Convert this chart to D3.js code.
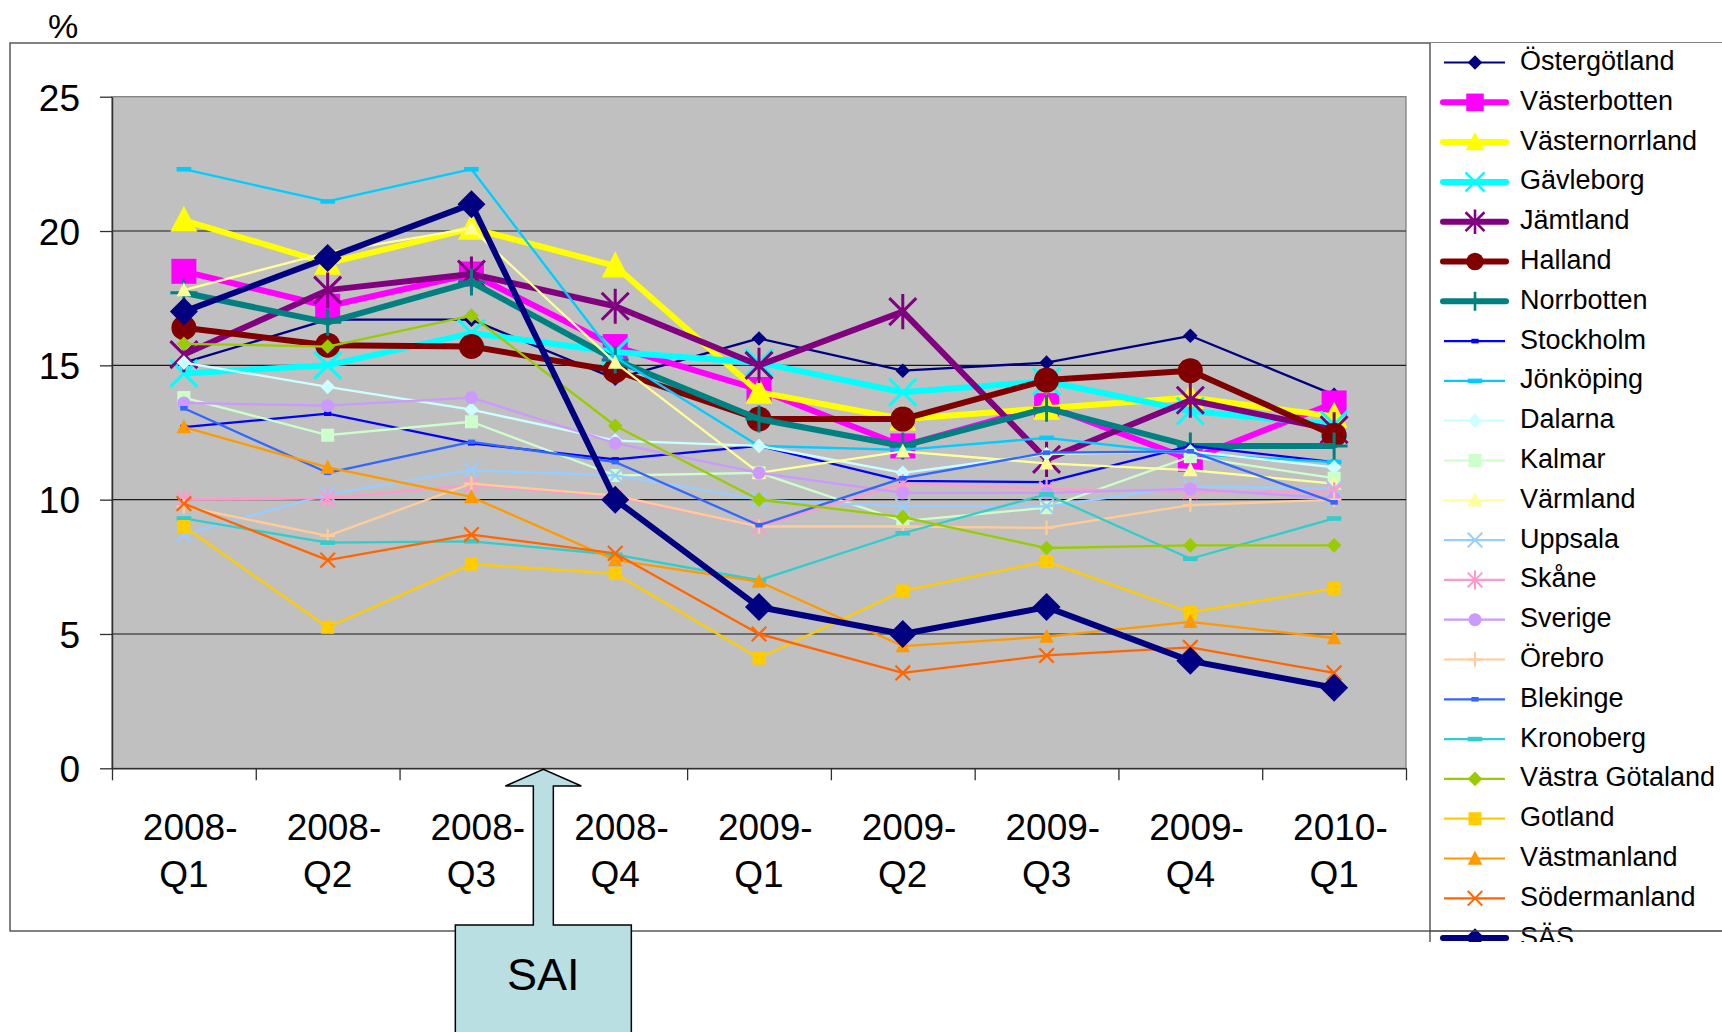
<!DOCTYPE html>
<html>
<head>
<meta charset="utf-8">
<script src="https://cdn.jsdelivr.net/npm/d3@7"></script>
<style>
body { margin: 0; background: #fff; }
svg { display: block; font-family: "Liberation Sans", Arial, sans-serif; }
</style>
</head>
<body>
<svg id="chart" width="1722" height="1032"></svg>
<script>
const quarters = ["2008-Q1", "2008-Q2", "2008-Q3", "2008-Q4", "2009-Q1", "2009-Q2", "2009-Q3", "2009-Q4", "2010-Q1"];
const yTicks = [0, 5, 10, 15, 20, 25];

const regions = ["Östergötland", "Västerbotten", "Västernorrland", "Gävleborg", "Jämtland", "Halland",
    "Norrbotten", "Stockholm", "Jönköping", "Dalarna", "Kalmar", "Värmland", "Uppsala", "Skåne",
    "Sverige", "Örebro", "Blekinge", "Kronoberg", "Västra Götaland", "Gotland", "Västmanland",
    "Södermanland", "SÄS"];

const ostergotland   = [15.1, 16.7, 16.7, 14.5, 16.0, 14.8, 15.1, 16.1, 13.9];
const vasterbotten   = [18.5, 17.2, 18.4, 15.7, 14.1, 12.0, 13.5, 11.5, 13.6];
const vasternorrland = [20.4, 18.8, 20.1, 18.7, 14.0, 13.0, 13.4, 13.8, 13.1];
const gavleborg      = [14.7, 15.0, 16.2, 15.5, 15.1, 14.0, 14.4, 13.3, 12.8];
const jamtland       = [15.4, 17.8, 18.4, 17.2, 15.0, 17.0, 11.5, 13.7, 12.6];
const halland        = [16.4, 15.75, 15.7, 14.8, 13.0, 13.0, 14.45, 14.8, 12.4];
const norrbotten     = [17.7, 16.6, 18.1, 15.2, 13.0, 12.0, 13.4, 12.0, 12.0];
const stockholm      = [12.7, 13.2, 12.1, 11.5, 12.0, 10.7, 10.65, 12.0, 11.4];
const jonkoping      = [22.3, 21.1, 22.3, 15.3, 12.0, 11.85, 12.3, 11.7, 11.4];
const dalarna        = [15.1, 14.2, 13.35, 12.2, 12.0, 11.0, 11.7, 11.8, 11.2];
const kalmar         = [13.8, 12.4, 12.9, 10.9, 11.0, 9.2, 9.7, 11.6, 10.8];
const varmland       = [17.8, 19.2, 20.1, 15.1, 11.0, 11.8, 11.35, 11.1, 10.6];
const uppsala        = [8.7, 10.2, 11.1, 10.9, 10.0, 9.75, 9.75, 10.5, 10.4];
const skane          = [10.0, 10.05, 10.55, 10.1, 9.0, 10.6, 10.4, 10.3, 10.3];
const sverige        = [13.6, 13.5, 13.8, 12.1, 11.0, 10.25, 10.25, 10.4, 10.05];
const orebro         = [9.75, 8.65, 10.6, 10.15, 9.0, 9.0, 8.95, 9.8, 10.0];
const blekinge       = [13.4, 11.0, 12.15, 11.4, 9.05, 10.8, 11.75, 11.8, 9.9];
const kronoberg      = [9.3, 8.4, 8.45, 7.95, 7.0, 8.75, 10.2, 7.8, 9.3];
const vastraGotaland = [15.8, 15.7, 16.85, 12.75, 10.0, 9.35, 8.2, 8.3, 8.3];
const gotland        = [9.0, 5.25, 7.6, 7.25, 4.1, 6.6, 7.7, 5.8, 6.7];
const vastmanland    = [12.7, 11.2, 10.1, 7.75, 6.95, 4.55, 4.9, 5.45, 4.85];
const sodermanland   = [9.85, 7.75, 8.7, 8.0, 5.0, 3.55, 4.2, 4.5, 3.55];
const sas            = [17.0, 19.0, 21.0, 10.0, 6.0, 5.0, 6.0, 4.0, 3.0];

const seriesValues = [ostergotland, vasterbotten, vasternorrland, gavleborg, jamtland, halland,
    norrbotten, stockholm, jonkoping, dalarna, kalmar, varmland, uppsala, skane, sverige, orebro,
    blekinge, kronoberg, vastraGotaland, gotland, vastmanland, sodermanland, sas];

// styling, kept apart from the values
const colors = ["#000080", "#ff00ff", "#ffff00", "#00ffff", "#800080", "#800000", "#008080", "#0000ff",
    "#00ccff", "#ccffff", "#ccffcc", "#ffff99", "#99ccff", "#ff99cc", "#cc99ff", "#ffcc99", "#3366ff",
    "#33cccc", "#99cc00", "#ffcc00", "#ff9900", "#ff6600", "#000080"];
const markers = ["diamond", "square", "triangle", "x", "asterisk", "circle", "plus", "dash", "longdash",
    "diamond", "square", "triangle", "x", "asterisk", "circle", "plus", "dash", "longdash", "diamond",
    "square", "triangle", "x", "diamond"];
const thick = regions.map((d, i) => (i >= 1 && i <= 6) || i === 22);

const svg = d3.select("#chart");
const W = 1722;
const plot = { left: 112, top: 96.7, right: 1406, bottom: 768.3 };

const x = d3.scaleBand().domain(quarters).range([plot.left, plot.right]);
const y = d3.scaleLinear().domain([0, 25]).range([plot.bottom, plot.top]);

// chart frame
svg.append("rect")
    .attr("x", 10).attr("y", 43).attr("width", 1800).attr("height", 888)
    .attr("fill", "#fff").attr("stroke", "#404040").attr("stroke-width", 1.3);

svg.append("text")
    .attr("x", 63).attr("y", 38)
    .attr("text-anchor", "middle")
    .attr("font-size", 34)
    .text("%");

// plot area
svg.append("rect")
    .attr("x", plot.left).attr("y", plot.top)
    .attr("width", plot.right - plot.left).attr("height", plot.bottom - plot.top)
    .attr("fill", "#c0c0c0").attr("stroke", "#808080").attr("stroke-width", 1.3);

svg.append("g")
    .selectAll("line")
    .data(yTicks.filter(d => d > 0 && d < 25))
    .enter().append("line")
    .attr("x1", plot.left).attr("x2", plot.right)
    .attr("y1", d => y(d)).attr("y2", d => y(d))
    .attr("stroke", "#1a1a1a").attr("stroke-width", 1.2);

const yAxis = svg.append("g")
    .attr("transform", `translate(${plot.left},0)`)
    .call(d3.axisLeft(y).tickValues(yTicks).tickSize(12).tickPadding(20).tickSizeOuter(0));
yAxis.select(".domain").attr("stroke", "#303030").attr("stroke-width", 1.5);
yAxis.selectAll(".tick line").attr("stroke", "#303030").attr("stroke-width", 1.3);
yAxis.selectAll(".tick text")
    .attr("font-size", 37).attr("fill", "#000")
    .attr("font-family", "'Liberation Sans', Arial, sans-serif")
    .attr("dy", "0.36em");

// category boundaries carry the tick marks
const xEdges = d3.scaleLinear().domain([0, quarters.length]).range([plot.left, plot.right]);
const xAxis = svg.append("g")
    .attr("transform", `translate(0,${plot.bottom})`)
    .call(d3.axisBottom(xEdges).tickValues(d3.range(quarters.length + 1)).tickFormat("").tickSize(12).tickSizeOuter(0));
xAxis.select(".domain").attr("stroke", "#303030").attr("stroke-width", 1.5);
xAxis.selectAll(".tick line").attr("stroke", "#303030").attr("stroke-width", 1.3);

// first line is centred on the year, the hyphen hangs to the right
const xLabels = svg.append("g")
    .selectAll("text")
    .data(quarters)
    .enter().append("text")
    .attr("text-anchor", "middle")
    .attr("font-size", 37);
xLabels.append("tspan")
    .attr("x", d => x(d) + x.bandwidth() / 2).attr("y", 840)
    .attr("dx", "0.17em")
    .text(d => d.split("-")[0] + "-");
xLabels.append("tspan")
    .attr("x", d => x(d) + x.bandwidth() / 2).attr("y", 887)
    .text(d => d.split("-")[1]);

function markerPath(type, r) {
    switch (type) {
        case "diamond": return `M0,${-r}L${r},0L0,${r}L${-r},0Z`;
        case "square": return `M${-r},${-r}H${r}V${r}H${-r}Z`;
        case "triangle": return `M0,${-r * 1.08}L${r},${r * 0.85}L${-r},${r * 0.85}Z`;
        case "circle": return d3.arc()({ innerRadius: 0, outerRadius: r, startAngle: 0, endAngle: 2 * Math.PI });
        case "x": return `M${-r},${-r}L${r},${r}M${-r},${r}L${r},${-r}`;
        case "asterisk": return `M${-r},${-r}L${r},${r}M${-r},${r}L${r},${-r}M0,${-r * 1.3}V${r * 1.3}`;
        case "plus": return `M${-r},0H${r}M0,${-r}V${r}`;
        case "dash": return `M${-r * 0.5},${-2.3}H${r * 0.5}V${2.3}H${-r * 0.5}Z`;
        case "longdash": return `M${-r},${-2.3}H${r}V${2.3}H${-r}Z`;
    }
}
const stroked = t => t === "x" || t === "asterisk" || t === "plus";

function markerSize(i) {
    if (i === 22) return 14;
    if (thick[i]) return markers[i] === "square" || markers[i] === "circle" ? 12.5 : 13.5;
    if (markers[i] === "square" || markers[i] === "circle") return 6.5;
    return 7.3;
}

const line = d3.line()
    .x((d, j) => x(quarters[j]) + x.bandwidth() / 2)
    .y(d => y(d));

const seriesG = svg.append("g");
seriesValues.forEach((vals, i) => {
    const g = seriesG.append("g");
    g.append("path")
        .datum(vals)
        .attr("fill", "none")
        .attr("stroke", colors[i])
        .attr("stroke-width", thick[i] ? 6 : 2.3)
        .attr("stroke-linejoin", "round")
        .attr("d", line);
    const t = markers[i];
    g.selectAll(".m")
        .data(vals)
        .enter().append("path")
        .attr("transform", (d, j) => `translate(${x(quarters[j]) + x.bandwidth() / 2},${y(d)})`)
        .attr("d", markerPath(t, markerSize(i)))
        .attr("fill", stroked(t) ? "none" : colors[i])
        .attr("stroke", stroked(t) ? colors[i] : "none")
        .attr("stroke-width", thick[i] ? 3 : 2.2);
});

// legend
const legTop = 43, legBottom = 942, legLeft = 1430;
svg.append("defs").append("clipPath").attr("id", "legclip")
    .append("rect").attr("x", legLeft).attr("y", legTop).attr("width", W - legLeft).attr("height", legBottom - legTop);
svg.append("rect")
    .attr("x", legLeft).attr("y", legTop).attr("width", W - legLeft).attr("height", legBottom - legTop)
    .attr("fill", "#fff");
const legend = svg.append("g").attr("clip-path", "url(#legclip)");
const rowY = d3.scaleLinear().domain([0, 1]).range([62.5, 102.3]);
regions.forEach((name, i) => {
    const g = legend.append("g").attr("transform", `translate(0,${rowY(i)})`);
    g.append("line")
        .attr("x1", thick[i] ? 1443 : 1444).attr("x2", thick[i] ? 1506 : 1505)
        .attr("stroke", colors[i])
        .attr("stroke-width", thick[i] ? 6 : 2.2)
        .attr("stroke-linecap", thick[i] ? "round" : "butt");
    const t = markers[i];
    const r = thick[i] ? markerSize(i) * 0.7 : markerSize(i);
    g.append("path")
        .attr("transform", "translate(1475,0)")
        .attr("d", markerPath(t, r))
        .attr("fill", stroked(t) ? "none" : colors[i])
        .attr("stroke", stroked(t) ? colors[i] : "none")
        .attr("stroke-width", thick[i] ? 2.6 : 2);
    g.append("text")
        .attr("x", 1520).attr("dy", "0.28em")
        .attr("font-size", 27)
        .text(name);
});
svg.append("line")
    .attr("x1", legLeft).attr("x2", legLeft).attr("y1", legTop).attr("y2", legBottom)
    .attr("stroke", "#404040").attr("stroke-width", 1.3);
svg.append("line")
    .attr("x1", legLeft).attr("x2", W).attr("y1", 931).attr("y2", 931)
    .attr("stroke", "#404040").attr("stroke-width", 1.3);

// SAI callout, arrow tip on the boundary between 2008-Q3 and 2008-Q4
const tipX = x("2008-Q4");
const tipY = plot.bottom + 1;
svg.append("path")
    .attr("d", `M${tipX - 88},1040V925H${tipX - 10}V786H${tipX - 38}L${tipX},${tipY}L${tipX + 38},786H${tipX + 10}V925H${tipX + 88}V1040Z`)
    .attr("fill", "#badfe2")
    .attr("stroke", "#000")
    .attr("stroke-width", 1.5);
svg.append("text")
    .attr("x", tipX).attr("y", 990)
    .attr("text-anchor", "middle")
    .attr("font-size", 45)
    .text("SAI");
</script>
</body>
</html>
